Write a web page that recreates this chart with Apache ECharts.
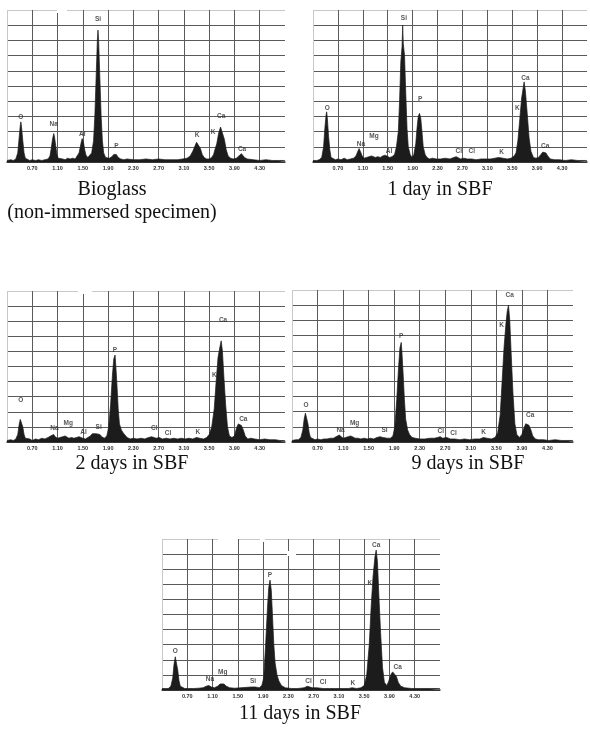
<!DOCTYPE html>
<html><head><meta charset="utf-8">
<script src="https://cdn.jsdelivr.net/npm/echarts@6/dist/echarts.min.js"></script>
<style>html,body{margin:0;padding:0;background:#fff}#c{width:590px;height:742px}</style>
</head><body><div id="c"></div>
<script>
// ---- data (energy keV, relative counts 0-100) ----
const xTickLabels = ['0.70','1.10','1.50','1.90','2.30','2.70','3.10','3.50','3.90','4.30'];
const captions = ['Bioglass\n(non-immersed specimen)', '1 day in SBF', '2 days in SBF', '9 days in SBF', '11 days in SBF'];

const specBioglass = [[0.30,1],[0.36,1.5],[0.40,1],[0.44,2],[0.47,6],[0.49,15],[0.51,24],[0.52,26.4],[0.53,23],[0.55,14],[0.57,6],[0.59,2.5],[0.62,1.5],[0.66,1],[0.70,1.5],[0.75,1],[0.80,1.5],[0.85,1],[0.90,1.5],[0.95,2],[0.98,4],[1.00,9],[1.02,15],[1.04,18.7],[1.05,17],[1.07,11],[1.09,5],[1.11,2.5],[1.14,1.5],[1.18,2],[1.22,1.5],[1.26,2.5],[1.30,2],[1.34,2.5],[1.38,2],[1.41,3],[1.44,6],[1.46,10],[1.48,14],[1.49,15.4],[1.51,13],[1.53,8],[1.55,4.5],[1.58,3],[1.61,3.5],[1.64,6],[1.67,14],[1.69,30],[1.71,55],[1.73,80],[1.74,86.8],[1.75,80],[1.77,55],[1.79,30],[1.81,14],[1.83,6],[1.86,3],[1.89,2],[1.92,2.5],[1.96,3.5],[1.99,5],[2.01,5.5],[2.03,5],[2.06,3],[2.10,2],[2.15,1.5],[2.20,2],[2.30,1.5],[2.40,1.5],[2.50,2],[2.60,1.5],[2.70,2],[2.80,1.5],[2.90,1.5],[3.00,1.5],[3.08,2],[3.15,2.5],[3.20,4],[3.24,7],[3.27,10],[3.30,13],[3.31,14.3],[3.33,13],[3.36,9],[3.39,5],[3.42,3],[3.46,2],[3.50,2],[3.54,3],[3.57,5],[3.59,8],[3.62,12],[3.65,19],[3.68,23],[3.69,24.2],[3.71,22],[3.74,15],[3.77,8],[3.80,4],[3.84,2.5],[3.88,2],[3.93,2.5],[3.97,4],[4.00,5],[4.01,5.5],[4.03,4.5],[4.06,3],[4.10,2],[4.20,1.5],[4.30,1],[4.40,1.5],[4.50,1],[4.60,1],[4.70,1]];
const specDay1 = [[0.30,1],[0.36,1],[0.40,1.5],[0.44,3],[0.47,10],[0.49,22],[0.51,31],[0.52,33],[0.53,29],[0.55,17],[0.57,8],[0.59,3],[0.62,2],[0.66,1.5],[0.70,2],[0.75,1.5],[0.80,2.5],[0.85,1.5],[0.90,2],[0.95,2.5],[0.99,4],[1.02,7],[1.04,8.8],[1.06,7],[1.09,4],[1.12,2.5],[1.16,3],[1.20,3.5],[1.24,4],[1.27,3.5],[1.30,3],[1.34,3.5],[1.38,3],[1.42,4],[1.46,4.5],[1.49,4.4],[1.53,3],[1.57,3.5],[1.61,5],[1.64,10],[1.67,20],[1.69,40],[1.71,66],[1.73,76],[1.74,90],[1.75,78],[1.77,70],[1.79,45],[1.81,22],[1.83,10],[1.86,5],[1.89,3],[1.92,5],[1.95,12],[1.97,22],[1.99,30],[2.01,32],[2.03,29],[2.05,20],[2.07,10],[2.10,5],[2.13,3],[2.17,2],[2.22,2.5],[2.28,2],[2.35,2],[2.42,2.5],[2.50,2],[2.56,3],[2.60,3.5],[2.63,3],[2.67,2],[2.72,2.5],[2.78,2],[2.85,2],[2.92,1.5],[3.00,2],[3.08,2],[3.15,2],[3.22,2.5],[3.28,3],[3.31,3.5],[3.35,2.5],[3.42,2],[3.48,2.5],[3.53,4],[3.56,6],[3.59,14],[3.62,28],[3.65,42],[3.68,50],[3.69,52.7],[3.71,47],[3.74,32],[3.77,16],[3.80,7],[3.84,3],[3.88,2.5],[3.92,3],[3.96,5],[3.99,6.5],[4.01,7],[4.04,6],[4.07,4],[4.11,2],[4.18,1.5],[4.26,1.5],[4.35,1],[4.45,1.5],[4.55,1],[4.70,1]];
const specDay2 = [[0.30,1],[0.36,1.5],[0.40,1],[0.44,2],[0.47,5],[0.49,11],[0.51,15],[0.52,16],[0.53,14],[0.55,10],[0.57,5],[0.59,2.5],[0.62,1.5],[0.66,2],[0.70,1],[0.75,2],[0.80,1.5],[0.85,2.5],[0.90,2],[0.95,3],[0.99,4],[1.02,4.5],[1.04,5],[1.06,3.5],[1.10,2.5],[1.14,3],[1.18,3.5],[1.22,4],[1.25,3.5],[1.28,2.5],[1.32,3],[1.36,2.5],[1.40,3],[1.44,3.5],[1.47,3.5],[1.50,2.5],[1.54,2],[1.58,3],[1.62,4],[1.65,5.5],[1.68,6],[1.71,5.5],[1.74,6.5],[1.77,5],[1.80,3.5],[1.84,2.5],[1.88,4],[1.91,10],[1.94,25],[1.97,45],[1.99,55],[2.01,57.6],[2.02,52],[2.04,38],[2.06,22],[2.08,12],[2.11,8],[2.14,6],[2.17,5],[2.20,3],[2.25,2],[2.30,2.5],[2.36,2],[2.42,2.5],[2.48,2],[2.54,3],[2.59,3.5],[2.62,3],[2.66,2.5],[2.71,3],[2.76,2],[2.82,2.5],[2.88,2],[2.94,2.5],[3.00,2],[3.06,2.5],[3.12,2],[3.18,2.5],[3.24,2],[3.30,3],[3.35,2.5],[3.41,2],[3.46,3],[3.50,5],[3.54,10],[3.58,22],[3.61,40],[3.64,56],[3.67,63],[3.69,67],[3.71,60],[3.73,45],[3.76,25],[3.79,10],[3.82,4],[3.86,3],[3.90,4],[3.93,9],[3.96,12],[3.98,12.6],[4.01,11],[4.04,8],[4.07,4],[4.11,2],[4.16,2.5],[4.22,2],[4.30,1.5],[4.38,2],[4.46,1.5],[4.55,1.5],[4.62,1],[4.70,1]];
const specDay9 = [[0.30,1],[0.36,1.5],[0.40,1.5],[0.44,3],[0.47,8],[0.49,15],[0.51,19],[0.52,20],[0.53,18],[0.55,12],[0.57,6],[0.59,3],[0.62,2],[0.66,1.5],[0.70,2],[0.75,1.5],[0.80,2],[0.85,2],[0.90,2.5],[0.95,2.5],[0.99,3.5],[1.02,4.5],[1.04,4.6],[1.07,3.5],[1.10,2.5],[1.14,3],[1.18,3.5],[1.22,4],[1.25,3.5],[1.29,2.5],[1.33,2.5],[1.38,2],[1.43,2.5],[1.48,2],[1.53,2.5],[1.58,2],[1.63,3],[1.68,3.5],[1.72,3],[1.75,3.5],[1.79,2.5],[1.84,2.5],[1.88,4],[1.91,10],[1.94,28],[1.97,50],[1.99,62],[2.01,65.5],[2.02,60],[2.04,45],[2.06,28],[2.08,15],[2.11,8],[2.14,5],[2.18,3],[2.23,2.5],[2.30,2],[2.38,2],[2.46,2.5],[2.53,2.5],[2.58,3],[2.62,3.5],[2.66,2.5],[2.72,3],[2.78,2],[2.85,2],[2.93,1.5],[3.00,2],[3.08,1.5],[3.16,2],[3.24,2],[3.30,3],[3.35,2.5],[3.42,2],[3.48,3],[3.52,6],[3.56,18],[3.59,40],[3.62,62],[3.65,78],[3.67,86],[3.69,90],[3.71,80],[3.73,60],[3.76,32],[3.79,12],[3.82,5],[3.86,3],[3.90,5],[3.93,9],[3.96,12],[3.98,12.8],[4.01,11],[4.04,8],[4.07,4],[4.11,2],[4.16,1.5],[4.24,1.5],[4.32,1],[4.42,1.5],[4.52,1],[4.62,1],[4.70,1]];
const specDay11 = [[0.30,1],[0.36,1],[0.40,1],[0.44,2.5],[0.47,8],[0.49,17],[0.51,22],[0.52,23],[0.53,21],[0.55,13],[0.57,6],[0.59,2.5],[0.62,1.5],[0.66,1],[0.72,1],[0.80,1],[0.88,1.2],[0.95,1.5],[1.00,2.5],[1.04,3],[1.08,2],[1.13,1.5],[1.18,2.5],[1.22,4],[1.25,4.6],[1.28,4],[1.32,2.5],[1.37,1.5],[1.45,1.2],[1.55,1.5],[1.65,1.8],[1.72,2],[1.78,2],[1.84,1.5],[1.88,3],[1.91,8],[1.94,30],[1.97,55],[1.99,68],[2.01,72.8],[2.03,66],[2.05,48],[2.07,30],[2.09,18],[2.12,10],[2.15,6],[2.19,3],[2.25,1.5],[2.35,1],[2.45,1],[2.55,1.5],[2.60,2.5],[2.63,2.5],[2.68,1.5],[2.75,1.5],[2.85,1],[2.95,1],[3.05,1],[3.15,1],[3.25,1],[3.31,1.5],[3.38,1],[3.45,1.5],[3.50,3],[3.54,10],[3.58,30],[3.61,55],[3.64,75],[3.67,88],[3.69,92.7],[3.71,85],[3.73,65],[3.76,38],[3.79,15],[3.82,5],[3.86,3],[3.89,6],[3.92,10],[3.95,12],[3.98,11.5],[4.01,9],[4.04,5],[4.08,2.5],[4.14,1.5],[4.25,1],[4.40,1],[4.55,1],[4.70,1]];

// peak labels [energy, height, element]
const peaksBioglass = [[0.52,29.6,'O'],[1.04,25,'Na'],[1.49,18.4,'Al'],[1.74,94,'Si'],[2.03,10.5,'P'],[3.31,17.8,'K'],[3.56,19.7,'K'],[3.69,30.3,'Ca'],[4.02,8.6,'Ca']];
const peaksDay1 = [[0.53,35.6,'O'],[1.07,12,'Na'],[1.28,17,'Mg'],[1.52,7,'Al'],[1.76,94.5,'Si'],[2.02,41.3,'P'],[2.64,7,'Cl'],[2.85,7,'Cl'],[3.33,6.6,'K'],[3.58,35.2,'K'],[3.71,55.4,'Ca'],[4.03,10.5,'Ca']];
const peaksDay2 = [[0.52,27.6,'O'],[1.05,9.3,'Na'],[1.27,12.6,'Mg'],[1.51,6.6,'Al'],[1.75,9.9,'Si'],[2.01,61,'P'],[2.63,9.3,'Cl'],[2.85,6,'Cl'],[3.32,6.6,'K'],[3.58,44,'K'],[3.72,80.8,'Ca'],[4.04,15.2,'Ca']];
const peaksDay9 = [[0.52,24.5,'O'],[1.06,8,'Na'],[1.28,12.6,'Mg'],[1.75,8,'Si'],[2.01,69.7,'P'],[2.63,6.8,'Cl'],[2.83,6,'Cl'],[3.30,6.6,'K'],[3.58,76.8,'K'],[3.71,96.9,'Ca'],[4.03,17.9,'Ca']];
const peaksDay11 = [[0.51,26,'O'],[1.06,7.3,'Na'],[1.26,11.5,'Mg'],[1.74,6,'Si'],[2.01,76,'P'],[2.62,6,'Cl'],[2.85,5.3,'Cl'],[3.32,4.8,'K'],[3.59,70.9,'K'],[3.69,96,'Ca'],[4.03,15.4,'Ca']];

// ---- layout ----
const panels = [
  {spec: specBioglass, peaks: peaksBioglass, left: 7,   top: 10,  width: 278, height: 152},
  {spec: specDay1,     peaks: peaksDay1,     left: 313, top: 10,  width: 281, height: 152},
  {spec: specDay2,     peaks: peaksDay2,     left: 7,   top: 291, width: 278, height: 151},
  {spec: specDay9,     peaks: peaksDay9,     left: 292, top: 290, width: 281, height: 152},
  {spec: specDay11,    peaks: peaksDay11,    left: 162, top: 539, width: 278, height: 151}
];
const captionPos = [[112,178],[440,178],[132,452],[468,452],[300,702]];
// small white scan gaps on top grid lines [x, y, w, h]
const scanGaps = [[57,7,10,6],[78,288,14,6],[218,536,20,6],[260,536,5,6],[287,551,9,5]];

const xLineColors = ['#c8c8c8'].concat(Array(10).fill('#5a5a5a')).concat(['#ffffff']);
const yLineColors = ['#444'].concat(Array(9).fill('#5a5a5a')).concat(['#c8c8c8']);

const grid = [], xAxis = [], yAxis = [], series = [];
panels.forEach((p, i) => {
  grid.push({left: p.left, top: p.top, width: p.width, height: p.height, containLabel: false});
  xAxis.push({
    type: 'value', gridIndex: i, min: 0.30, max: 4.70, interval: 0.40,
    axisLine: {show: true, lineStyle: {color: '#333', width: 1.5}},
    axisTick: {show: false},
    splitLine: {show: true, lineStyle: {color: xLineColors, width: 1}},
    axisLabel: {
      show: true, margin: 3, fontSize: 5.5, fontWeight: 'bold', color: '#333',
      fontFamily: 'Liberation Sans, Arial, sans-serif',
      formatter: v => { const s = v.toFixed(2); return xTickLabels.includes(s) ? s : ''; }
    }
  });
  yAxis.push({
    type: 'value', gridIndex: i, min: 0, max: 100, interval: 10,
    axisLine: {show: false}, axisTick: {show: false}, axisLabel: {show: false},
    splitLine: {show: true, lineStyle: {color: yLineColors, width: 1}}
  });
  series.push({
    type: 'line', xAxisIndex: i, yAxisIndex: i, data: p.spec,
    showSymbol: false, symbol: 'none', smooth: false, silent: true,
    lineStyle: {color: '#1c1c1c', width: 0.7},
    areaStyle: {color: '#1c1c1c', opacity: 1},
    z: 3
  });
  series.push({
    type: 'scatter', xAxisIndex: i, yAxisIndex: i, symbolSize: 0, silent: true,
    data: p.peaks.map(d => ({value: [d[0], d[1]], name: d[2]})),
    label: {
      show: true, position: 'inside', formatter: '{b}', fontSize: 6.5, fontWeight: 'bold',
      color: '#2a2a2a', fontFamily: 'Liberation Sans, Arial, sans-serif'
    },
    z: 5
  });
});

const chart = echarts.init(document.getElementById('c'), null, {renderer: 'canvas'});
chart.setOption({animation: false, backgroundColor: '#fff', grid, xAxis, yAxis, series});
chart.setOption({graphic: captions.map((c, i) => ({
  type: 'text', x: captionPos[i][0], y: captionPos[i][1],
  style: {text: c, align: 'center', verticalAlign: 'top', fontSize: 20, fontFamily: '"Liberation Serif", "Times New Roman", serif', fill: '#111', lineHeight: 23}
})).concat(scanGaps.map(g => ({
  type: 'rect', shape: {x: g[0], y: g[1], width: g[2], height: g[3]}, style: {fill: '#fff'}, z: 10
})))});
</script></body></html>
